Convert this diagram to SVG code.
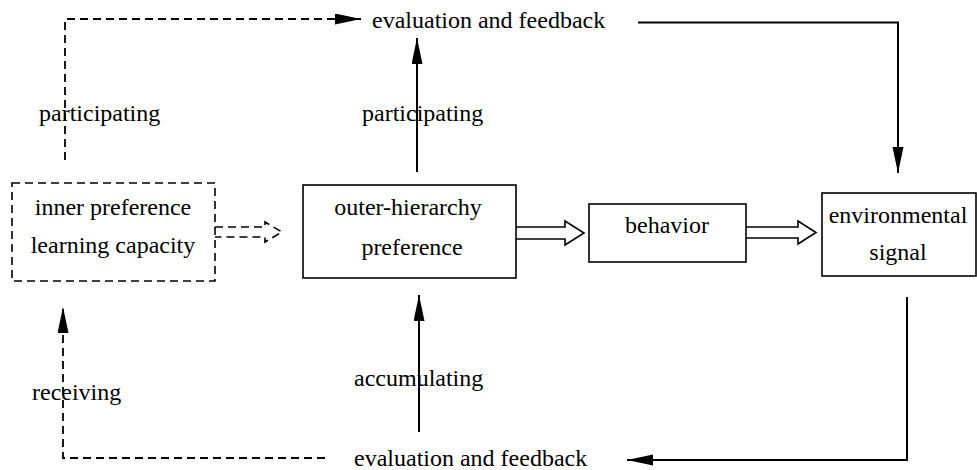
<svg xmlns="http://www.w3.org/2000/svg" width="977" height="470" viewBox="0 0 977 470">
<style>
text{font-family:"Liberation Serif","Times New Roman",serif;font-size:24px;fill:#000}
.c{text-anchor:middle}
.box{fill:#fff;stroke:#000;stroke-width:1.6}
.dbox{fill:#fff;stroke:#000;stroke-width:1.6;stroke-dasharray:8 5}
.ln{fill:none;stroke:#000;stroke-width:2}
.dl{fill:none;stroke:#000;stroke-width:1.8;stroke-dasharray:8 5}
.hol{fill:#fff;stroke:#000;stroke-width:1.6}
.dhol{fill:#fff;stroke:#000;stroke-width:1.6;stroke-dasharray:8 5}
</style>
<defs>
<marker id="ah" markerUnits="userSpaceOnUse" markerWidth="28" markerHeight="12" refX="26" refY="5.5" orient="auto">
<path d="M0,0 L26,5.5 L0,11 z" fill="#000"/>
</marker>
</defs>
<rect width="977" height="470" fill="#fff"/>
<g id="connectors">
<path class="dl" d="M65,160 L65,19 L361,19" marker-end="url(#ah)"/>
<path class="ln" d="M417,172 L417,38" marker-end="url(#ah)"/>
<path class="ln" d="M638,22.5 L898,22.5 L898,173" marker-end="url(#ah)"/>
<path class="ln" d="M907,297 L907,460 L627,460" marker-end="url(#ah)"/>
<path class="ln" d="M419,432 L419,295" marker-end="url(#ah)"/>
<path class="dl" d="M325,458 L63,458 L63,307" marker-end="url(#ah)"/>
<path class="dhol" d="M215,227 L265,227 L265,222 L282,232 L265,242 L265,237 L215,237"/>
<path class="hol" d="M516,227 L565,227 L565,221 L584,233 L565,245 L565,239 L516,239"/>
<path class="hol" d="M746,227 L798,227 L798,221 L816,232.5 L798,244 L798,238 L746,238"/>
</g>
<g id="labels">
<text x="39" y="121">participating</text>
<text x="362" y="121">participating</text>
<text x="32" y="400">receiving</text>
<text x="354" y="386">accumulating</text>
</g>
<g id="eval-top"><text x="372" y="28">evaluation and feedback</text></g>
<g id="eval-bottom"><text x="354" y="466">evaluation and feedback</text></g>
<g id="inner">
<rect class="dbox" x="12" y="183" width="203" height="98"/>
<text class="c" x="113" y="215">inner preference</text>
<text class="c" x="113" y="253">learning capacity</text>
</g>
<g id="outer">
<rect class="box" x="303" y="185" width="213" height="93"/>
<text class="c" x="408" y="215">outer-hierarchy</text>
<text class="c" x="412" y="255">preference</text>
</g>
<g id="behavior">
<rect class="box" x="589" y="204" width="157" height="58"/>
<text class="c" x="667" y="233">behavior</text>
</g>
<g id="env">
<rect class="box" x="822" y="193" width="154" height="83"/>
<text class="c" x="898" y="223">environmental</text>
<text class="c" x="898" y="260">signal</text>
</g>
</svg>
